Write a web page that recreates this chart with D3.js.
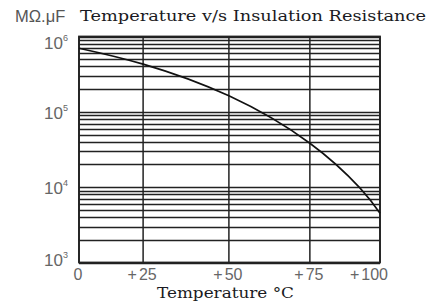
<!DOCTYPE html>
<html>
<head>
<meta charset="utf-8">
<script src="https://cdn.jsdelivr.net/npm/d3@7"></script>
<style>
  body { margin: 0; background: #fff; }
  svg { display: block; }
</style>
</head>
<body>
<div id="chart"></div>
<script>
// data
const temps = [0, 25, 50, 75, 92.9, 100];
const resistance = [7.0e5, 4.3e5, 1.63e5, 3.83e4, 9.7e3, 4.5e3];
const xTicks = [0, 25, 50, 75, 100];
const xTickLabels = ["0", "+25", "+50", "+75", "+100"];
// the printed temperature axis is not evenly spaced
const xTickFrac = [0, 0.213, 0.498, 0.767, 1];
const yDecades = [1e3, 1e4, 1e5, 1e6];
const yExponents = ["3", "4", "5", "6"];

const width = 434, height = 301;
const margin = {left: 79, right: 54, top: 36.5, bottom: 38.5};
const w = width - margin.left - margin.right,
      h = height - margin.top - margin.bottom;

const svg = d3.select("#chart").append("svg")
  .attr("width", width)
  .attr("height", height);

const x = d3.scaleLinear()
  .domain(xTicks)
  .range(xTickFrac.map(f => margin.left + f * w));

const y = d3.scaleLog()
  .domain([1e3, 1e6])
  .range([margin.top + h, margin.top]);

// horizontal log grid 1..9 x 10^k
const gridVals = [];
[1e3, 1e4, 1e5].forEach(d => {
  for (let k = 1; k <= 9; k++) gridVals.push(d * k);
});
gridVals.push(1e6);

svg.append("g")
  .selectAll("line")
  .data(gridVals)
  .join("line")
  .attr("x1", margin.left)
  .attr("x2", margin.left + w)
  .attr("y1", d => Math.round(y(d)) + 0.5)
  .attr("y2", d => Math.round(y(d)) + 0.5)
  .attr("stroke", "#222")
  .attr("stroke-width", 1.3);

// vertical grid
svg.append("g")
  .selectAll("line")
  .data(xTicks)
  .join("line")
  .attr("x1", d => x(d))
  .attr("x2", d => x(d))
  .attr("y1", margin.top)
  .attr("y2", margin.top + h)
  .attr("stroke", "#222")
  .attr("stroke-width", 1.5);

// frame
svg.append("rect")
  .attr("x", margin.left)
  .attr("y", margin.top)
  .attr("width", w)
  .attr("height", h)
  .attr("fill", "none")
  .attr("stroke", "#222")
  .attr("stroke-width", 1.8);

// curve
const line = d3.line()
  .x((d, i) => x(temps[i]))
  .y(d => y(d))
  .curve(d3.curveNatural);

svg.append("path")
  .datum(resistance)
  .attr("d", line)
  .attr("fill", "none")
  .attr("stroke", "#111")
  .attr("stroke-width", 1.6);

// y labels
const yl = svg.append("g")
  .selectAll("text")
  .data(yDecades)
  .join("text")
  .attr("x", 68)
  .attr("y", (d, i) => y(d) + (i === 0 ? 3 : i === 3 ? 12 : 7))
  .attr("text-anchor", "end")
  .style("font-family", "Liberation Sans, Arial, sans-serif")
  .style("font-size", "17px")
  .style("fill", "#666")
  .text("10");
yl.append("tspan")
  .attr("dy", -8)
  .style("font-size", "9px")
  .text((d, i) => yExponents[i]);

// x labels, with the loose gap after the plus sign
const xl = svg.append("g")
  .selectAll("text")
  .data(xTicks)
  .join("text")
  .attr("x", (d, i) => i === 4 ? x(d) + 8 : x(d) - 1)
  .attr("y", 280)
  .attr("text-anchor", (d, i) => i === 4 ? "end" : "middle")
  .style("font-family", "Liberation Sans, Arial, sans-serif")
  .style("font-size", "16px")
  .style("fill", "#666");
xl.append("tspan")
  .text((d, i) => xTickLabels[i].slice(0, 1));
xl.append("tspan")
  .attr("dx", (d, i) => i === 0 ? 0 : 2)
  .text((d, i) => xTickLabels[i].slice(1));

// unit
svg.append("text")
  .attr("x", 15)
  .attr("y", 22)
  .style("font-family", "Liberation Sans, Arial, sans-serif")
  .style("font-size", "16.5px")
  .style("fill", "#555")
  .text("MΩ.μF");

// title
svg.append("text")
  .attr("x", 80)
  .attr("y", 21)
  .attr("textLength", 346)
  .attr("lengthAdjust", "spacingAndGlyphs")
  .style("font-family", "DejaVu Serif, serif")
  .style("font-size", "15.5px")
  .style("fill", "#1a1a22")
  .text("Temperature v/s Insulation Resistance");

// x axis title
svg.append("text")
  .attr("x", 157)
  .attr("y", 298)
  .attr("textLength", 137)
  .attr("lengthAdjust", "spacingAndGlyphs")
  .style("font-family", "DejaVu Serif, serif")
  .style("font-size", "14.5px")
  .style("fill", "#1a1a22")
  .text("Temperature °C");
</script>
</body>
</html>
